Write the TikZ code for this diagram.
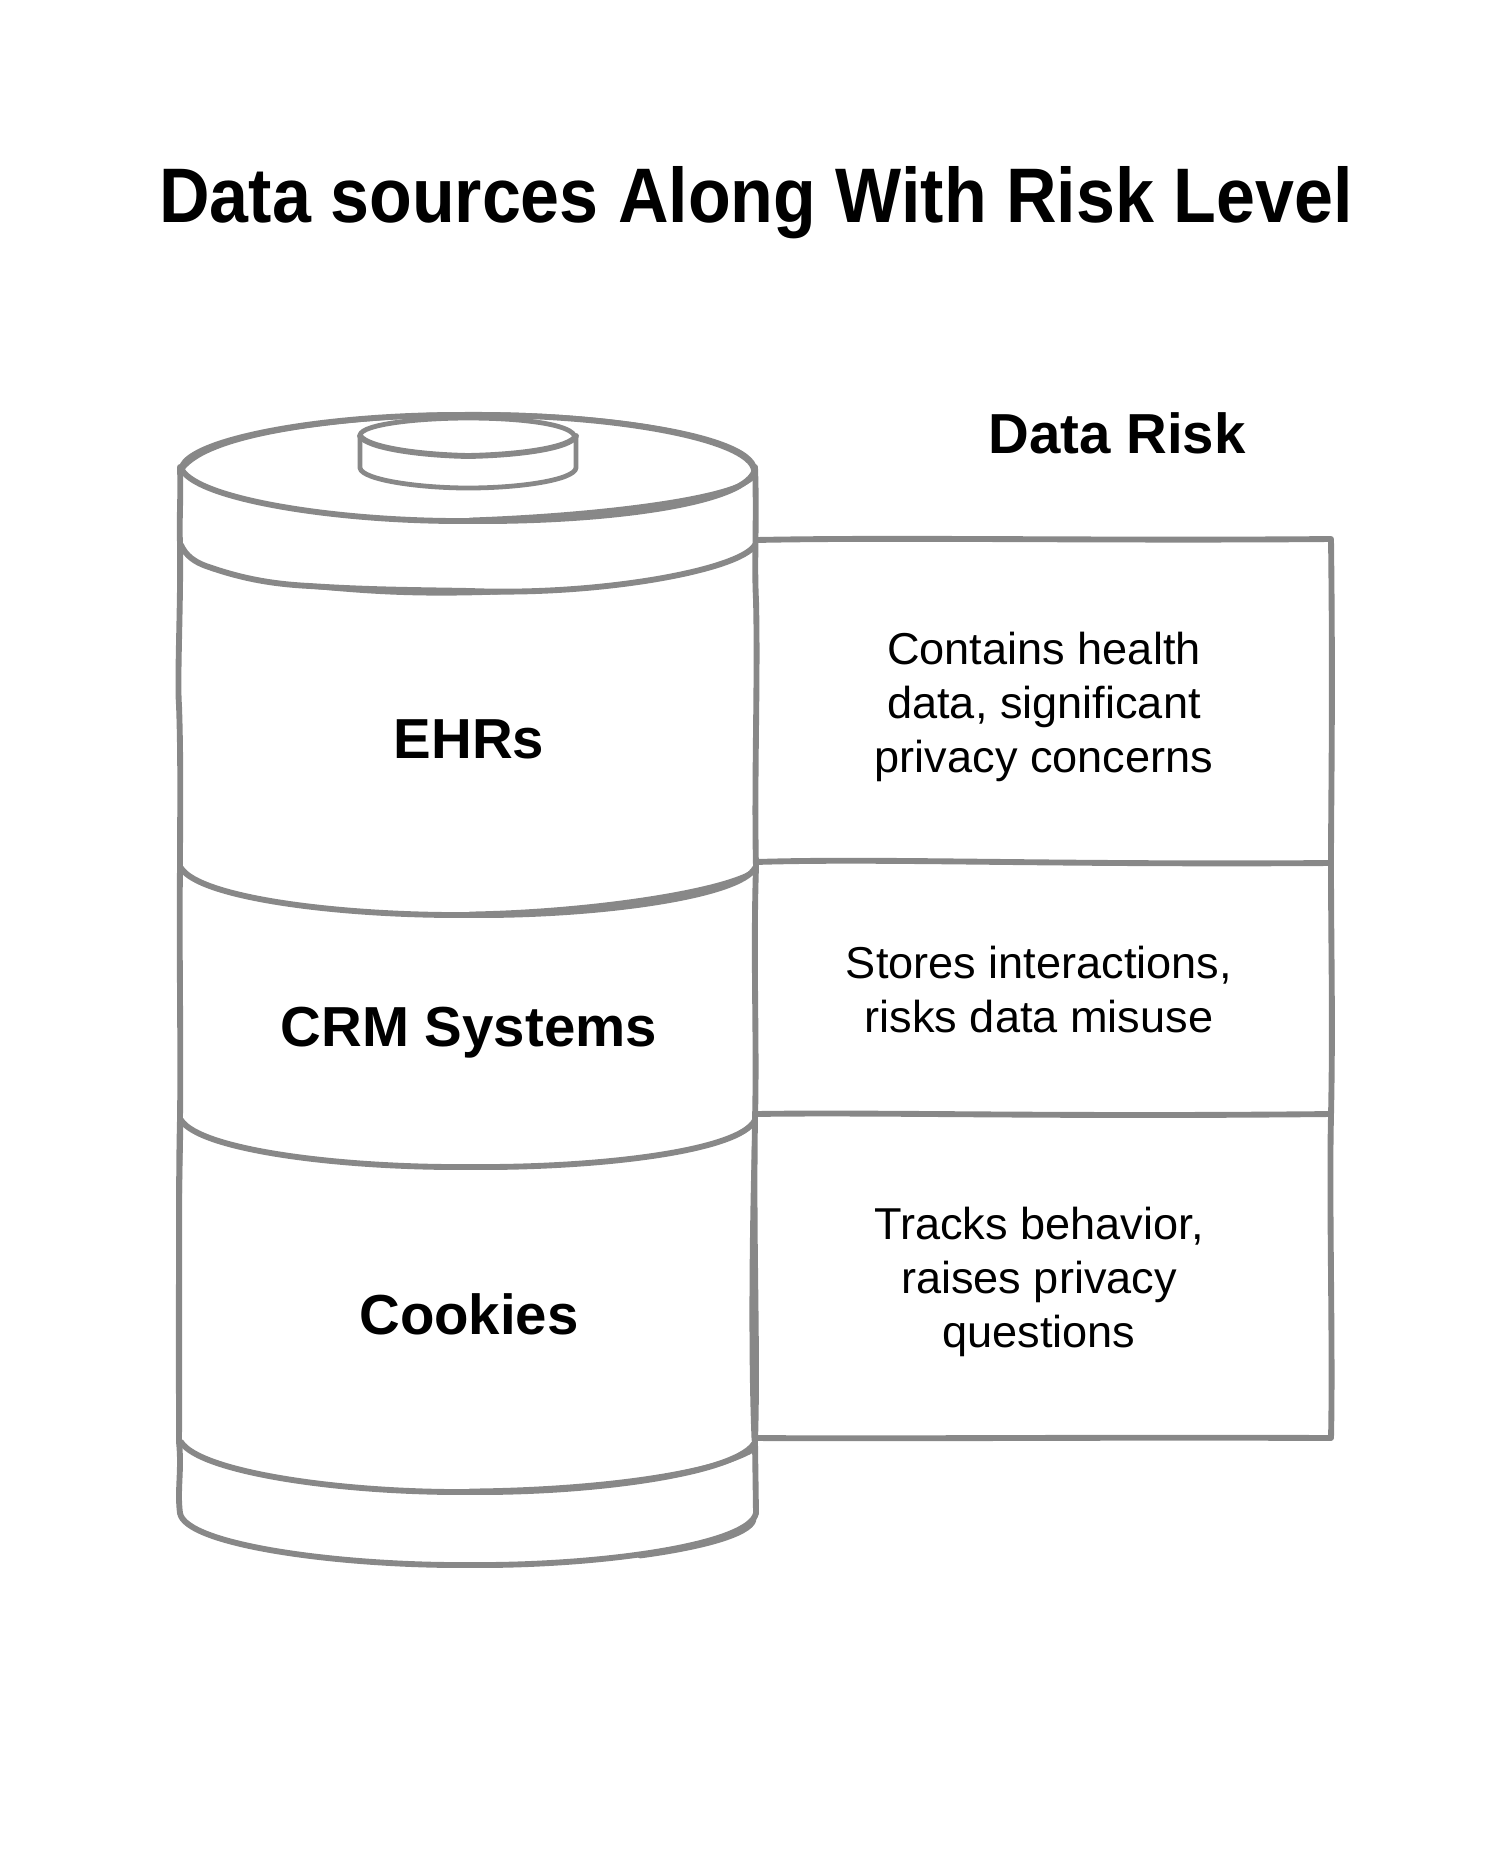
\documentclass[tikz,border=0pt]{standalone}
\usepackage{fontspec}
\setmainfont{Liberation Sans}
\newfontfamily\titlefont[FakeStretch=0.905,BoldFont={Liberation Sans Bold}]{Liberation Sans Bold}
\newfontfamily\bodyfont[FakeStretch=1.01]{Liberation Sans}
\definecolor{sk}{HTML}{888888}
\tikzset{
 x=0.75pt,y=-0.75pt,
 sketch/.style={draw=sk,line width=4.4pt,line cap=round,line join=round},
 thin sketch/.style={draw=sk,line width=3.6pt,line cap=round,line join=round},
 title/.style={anchor=base,inner sep=0pt,font=\fontsize{58}{72}\selectfont\titlefont},
 head/.style={anchor=base,inner sep=0pt,font=\fontsize{42.3}{50}\selectfont\bfseries},
 body/.style={anchor=center,inner sep=0pt,align=center,font=\fontsize{33.5}{40.5}\selectfont\bodyfont},
}
\begin{document}
\begin{tikzpicture}
\useasboundingbox (0,0) rectangle (1512,1854);
% top ellipse
\draw[sketch] (182,467) .. controls (190,440) and (320,414) .. (468,415) .. controls (620,414) and (750,440) .. (754,470);
\draw[thin sketch] (182,469) .. controls (210,432) and (340,420) .. (410,416) .. controls (560,408) and (740,430) .. (754,466);
\draw[sketch] (182,470) .. controls (200,500) and (340,522) .. (470,521) .. controls (600,522) and (740,505) .. (754,472);
\draw[thin sketch] (470,520) .. controls (590,516) and (730,500) .. (752,478);
% small cylinder
\draw[thin sketch] (360,435) .. controls (362,424) and (420,418) .. (468,418) .. controls (520,418) and (575,424) .. (575,438);
\draw[sketch] (360,436) .. controls (368,448) and (420,455) .. (468,456) .. controls (520,455) and (570,448) .. (576,436);
\draw[thin sketch] (360,436) -- (360,468) .. controls (362,480) and (420,488) .. (468,488) .. controls (520,488) and (574,480) .. (576,468) -- (576,436);
% sides
\draw[sketch] (180,467) .. controls (181,500) and (179,520) .. (180,543) .. controls (181,600) and (177,680) .. (179,705) .. controls (181,760) and (180,820) .. (180,867) .. controls (179,950) and (181,1040) .. (180,1119) .. controls (178,1200) and (180,1300) .. (179,1442) .. controls (182,1470) and (177,1490) .. (180,1513);
\draw[thin sketch] (181,1120) .. controls (179,1220) and (177,1320) .. (179,1442);
\draw[sketch] (755,467) .. controls (757,520) and (754,560) .. (756,600) .. controls (758,680) and (754,780) .. (756,867) .. controls (753,960) and (757,1040) .. (755,1119) .. controls (753,1250) and (758,1350) .. (755,1442) -- (756,1513);
\draw[thin sketch] (755,1120) .. controls (751,1250) and (751,1370) .. (754,1440);
% bands
\draw[sketch] (181,545) .. controls (186,556) and (195,562) .. (206,566) .. controls (240,578) and (270,584) .. (310,586) .. controls (370,590) and (420,590) .. (470,591) .. controls (600,596) and (740,570) .. (755,545);
\draw[thin sketch] (310,586) .. controls (370,592) and (420,595) .. (500,592);
\draw[sketch] (181,868) .. controls (200,898) and (340,916) .. (470,915) .. controls (600,916) and (740,896) .. (755,868);
\draw[thin sketch] (470,914) .. controls (590,912) and (720,892) .. (753,872);
\draw[sketch] (181,1120) .. controls (200,1150) and (340,1168) .. (470,1167) .. controls (600,1168) and (740,1151) .. (755,1120);
\draw[sketch] (181,1442) .. controls (200,1472) and (340,1493) .. (470,1492) .. controls (600,1493) and (740,1472) .. (755,1442);
\draw[thin sketch] (470,1491) .. controls (590,1490) and (710,1475) .. (753,1450);
% bottom
\draw[sketch] (180,1513) .. controls (185,1545) and (340,1566) .. (470,1565) .. controls (600,1566) and (750,1545) .. (756,1513);
\draw[thin sketch] (640,1556) .. controls (700,1548) and (750,1535) .. (754,1520);
% risk box
\draw[sketch] (756,540) .. controls (900,537) and (1100,541) .. (1331,539) .. controls (1333,700) and (1331,800) .. (1331,863) .. controls (1331,950) and (1333,1020) .. (1331,1116) .. controls (1329,1200) and (1333,1350) .. (1331,1438) .. controls (1100,1437) and (900,1439) .. (756,1438);
\draw[sketch] (756,862) .. controls (880,858) and (1050,865) .. (1331,863);
\draw[sketch] (756,1114) .. controls (880,1112) and (1050,1117) .. (1331,1114);
% texts
\node[title] (ttl) at (756,222) {Data sources Along With Risk Level};
\node[head] (riskhead) at (1117,453) {Data Risk};
\node[head] (ehr) at (469,758) {EHRs};
\node[head] (crm) at (469,1046) {CRM Systems};
\node[head] (cook) at (469,1334) {Cookies};
\node[body] (r1) at (1044,707) {Contains health\\data, significant\\privacy concerns};
\node[body] (r2) at (1039,990) {Stores interactions,\\risks data misuse};
\node[body] (r3) at (1039,1282) {Tracks behavior,\\raises privacy\\questions};
\end{tikzpicture}
\end{document}
